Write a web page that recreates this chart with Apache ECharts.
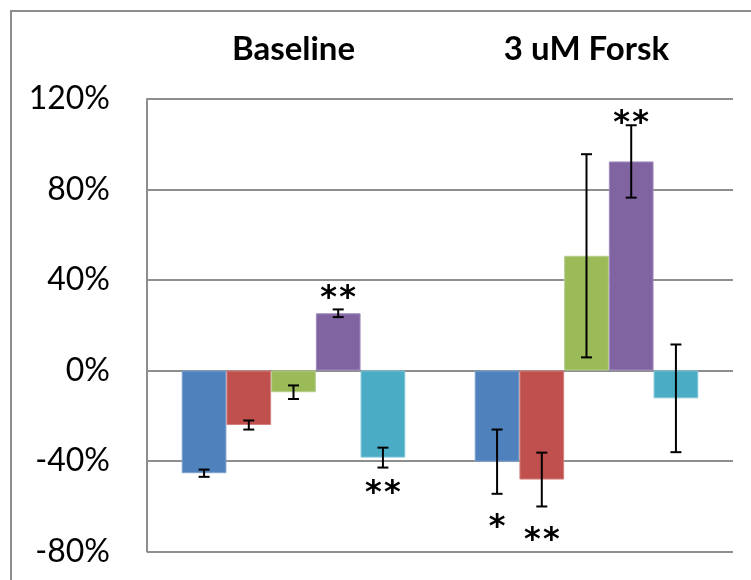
<!DOCTYPE html>
<html>
<head>
<meta charset="utf-8">
<script src="https://cdn.jsdelivr.net/npm/echarts@6/dist/echarts.min.js"></script>
<style>
html,body{margin:0;padding:0;background:#fff;}
#chart{width:751px;height:580px;}
</style>
</head>
<body>
<div id="chart"></div>
<script>
// ---- data ----
var categories = ['Baseline', '3 uM Forsk'];
var seriesNames = ['Series 1', 'Series 2', 'Series 3', 'Series 4', 'Series 5'];
var series1 = [-45.4, -40.3];
var series2 = [-24.1, -48.2];
var series3 = [-9.6, 50.7];
var series4 = [25.3, 92.4];
var series5 = [-38.5, -12.3];
var errors1 = [1.6, 14.2];
var errors2 = [2.0, 11.9];
var errors3 = [3.0, 44.9];
var errors4 = [1.7, 16.0];
var errors5 = [4.4, 23.8];
var stars1 = ['', '*'];
var stars2 = ['', '**'];
var stars3 = ['', ''];
var stars4 = ['**', '**'];
var stars5 = ['**', ''];
var yTicks = [-80, -40, 0, 40, 80, 120];

// ---- style ----
var colors = ['#4F81BD', '#C0504D', '#9BBB59', '#8064A2', '#4BACC6'];
var borders = ['#7EA1CE', '#D4817E', '#B6CE8A', '#A18CBF', '#80C6D8'];
var CAT_GAP = 0.237;
// pixel gap between error-bar end and asterisk centre, per [series][category]
var starGap = [[0, 27], [0, 27], [0, 0], [18, 9], [19, 0]];
var STAR_SIZE = 32;
var STAR_PITCH = 19;

var values = [series1, series2, series3, series4, series5];
var errors = [errors1, errors2, errors3, errors4, errors5];
var stars = [stars1, stars2, stars3, stars4, stars5];

var errData = [];
for (var s = 0; s < values.length; s++) {
  for (var c = 0; c < categories.length; c++) {
    errData.push([c, s, values[s][c] - errors[s][c], values[s][c] + errors[s][c], values[s][c]]);
  }
}

var gridColor = '#8E8E8E';
var chart = echarts.init(document.getElementById('chart'), null, {renderer: 'canvas'});

var series = [];
for (var i = 0; i < values.length; i++) {
  series.push({
    name: seriesNames[i],
    type: 'bar',
    data: values[i],
    barGap: '0%',
    barCategoryGap: (CAT_GAP * 100) + '%',
    itemStyle: {color: colors[i], borderColor: borders[i], borderWidth: 1},
    emphasis: {disabled: true},
    animation: false
  });
}
series.push({
  type: 'custom',
  data: errData,
  animation: false,
  z: 5,
  renderItem: function (params, api) {
    var cat = api.value(0), si = api.value(1), lo = api.value(2), hi = api.value(3), v = api.value(4);
    var band = api.size([1, 0])[0];
    var bw = band * (1 - CAT_GAP) / values.length;
    var xOff = -band * (1 - CAT_GAP) / 2 + (si + 0.5) * bw;
    var pLo = api.coord([cat, lo]);
    var pHi = api.coord([cat, hi]);
    var x = pLo[0] + xOff;
    var cap = 5.5;
    var st = {stroke: '#000', lineWidth: 2};
    var children = [
      {type: 'line', shape: {x1: x, y1: pLo[1], x2: x, y2: pHi[1]}, style: st},
      {type: 'line', shape: {x1: x - cap, y1: pLo[1], x2: x + cap, y2: pLo[1]}, style: st},
      {type: 'line', shape: {x1: x - cap, y1: pHi[1], x2: x + cap, y2: pHi[1]}, style: st}
    ];
    var mark = stars[si][cat];
    if (mark) {
      var gap = starGap[si][cat];
      var y = v >= 0 ? pHi[1] - gap : pLo[1] + gap;
      var n = mark.length;
      for (var k = 0; k < n; k++) {
        children.push({
          type: 'text',
          style: {
            text: '*',
            x: x + (k - (n - 1) / 2) * STAR_PITCH, y: y + STAR_SIZE * 0.22,
            align: 'center', verticalAlign: 'middle',
            fontFamily: 'DejaVu Sans', fontWeight: 'bold', fontSize: STAR_SIZE, fill: '#000'
          }
        });
      }
    }
    return {type: 'group', children: children};
  }
});

chart.setOption({
  backgroundColor: '#fff',
  animation: false,
  grid: {left: 147, right: 18, top: 99, bottom: 28.5, containLabel: false},
  xAxis: {
    type: 'category',
    data: categories,
    position: 'top',
    axisLine: {show: false},
    axisTick: {show: false},
    axisLabel: {
      margin: 33,
      fontFamily: 'Lato', fontWeight: 'bold', fontSize: 33, color: '#000'
    },
    splitLine: {show: false}
  },
  yAxis: {
    type: 'value',
    min: yTicks[0],
    max: yTicks[yTicks.length - 1],
    interval: yTicks[1] - yTicks[0],
    axisLine: {show: true, lineStyle: {color: gridColor, width: 2}},
    axisTick: {show: false},
    axisLabel: {
      margin: 37,
      formatter: '{value}%',
      fontFamily: 'Lato', fontSize: 32, color: '#000'
    },
    splitLine: {show: true, lineStyle: {color: gridColor, width: 2}}
  },
  graphic: [{
    type: 'rect',
    shape: {x: 11, y: 11, width: 800, height: 700},
    style: {fill: null, stroke: gridColor, lineWidth: 2},
    silent: true
  }],
  series: series
});
</script>
</body>
</html>
